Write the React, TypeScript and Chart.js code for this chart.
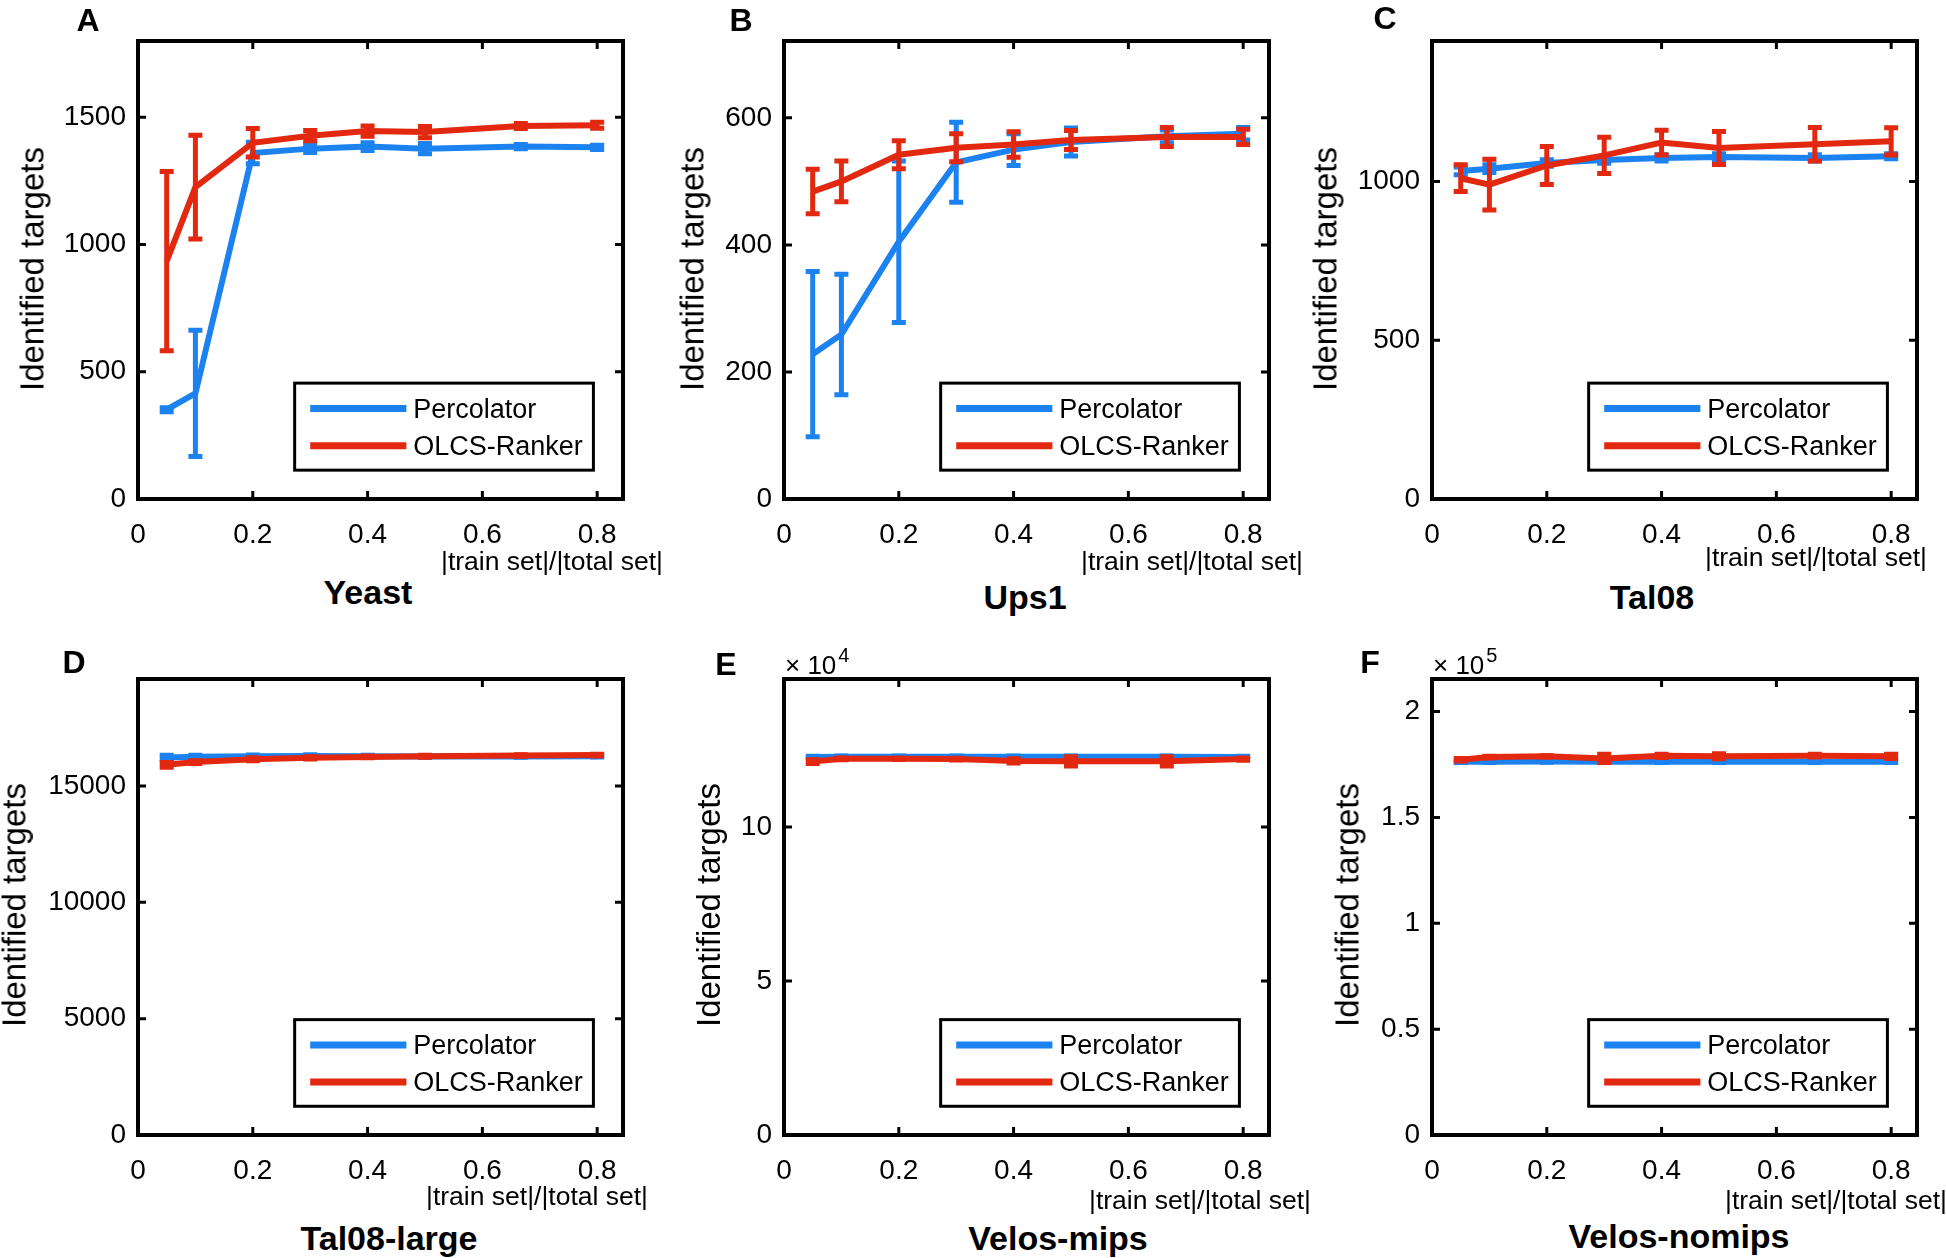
import React, { useEffect, useRef } from "react";
import { Chart, registerables } from "chart.js";

Chart.register(...registerables);

// ---------- data ----------
const trainFractions = [0.05, 0.1, 0.2, 0.3, 0.4, 0.5, 0.667, 0.8];
const xTicks = [0, 0.2, 0.4, 0.6, 0.8];
const seriesNames = ["Percolator", "OLCS-Ranker"];
const xAxisNote = "|train set|/|total set|";
const yAxisTitle = "Identified targets";

// A: Yeast
const yeastPercolator = [351, 415, 1360, 1377, 1385, 1377, 1385, 1382];
const yeastPercolatorErr = [8, 248, 42, 15, 15, 20, 8, 8];
const yeastOlcs = [935, 1226, 1400, 1428, 1446, 1442, 1466, 1469];
const yeastOlcsErr = [352, 204, 56, 20, 20, 22, 10, 12];
const yeastYTicks = [0, 500, 1000, 1500];

// B: Ups1
const ups1Percolator = [228, 259, 405, 530, 550, 562, 571, 575];
const ups1PercolatorErr = [130, 95, 127, 63, 25, 22, 10, 10];
const ups1Olcs = [484, 500, 542, 553, 558, 565, 570, 570];
const ups1OlcsErr = [35, 32, 22, 22, 20, 15, 15, 12];
const ups1YTicks = [0, 200, 400, 600];

// C: Tal08
const tal08Percolator = [1033, 1040, 1058, 1067, 1074, 1077, 1074, 1079];
const tal08PercolatorErr = [12, 12, 10, 10, 10, 10, 10, 8];
const tal08Olcs = [1010, 990, 1050, 1082, 1122, 1105, 1117, 1126];
const tal08OlcsErr = [42, 80, 60, 57, 39, 52, 53, 43];
const tal08YTicks = [0, 500, 1000];

// D: Tal08-large
const tal08LargePercolator = [16230, 16260, 16280, 16290, 16280, 16270, 16270, 16280];
const tal08LargePercolatorErr = [90, 60, 50, 50, 40, 30, 30, 30];
const tal08LargeOlcs = [15910, 16030, 16150, 16210, 16250, 16280, 16310, 16330];
const tal08LargeOlcsErr = [100, 60, 60, 50, 40, 40, 30, 40];
const tal08LargeYTicks = [0, 5000, 10000, 15000];

// E: Velos-mips
const velosMipsPercolator = [122700, 122800, 122800, 122800, 122800, 122800, 122800, 122700];
const velosMipsPercolatorErr = [200, 200, 200, 200, 200, 200, 200, 200];
const velosMipsOlcs = [121200, 122100, 122100, 122000, 121400, 121300, 121300, 122000];
const velosMipsOlcsErr = [600, 300, 200, 300, 700, 1500, 1500, 400];
const velosMipsYTicks = [0, 50000, 100000];

// F: Velos-nomips
const velosNomipsPercolator = [176300, 176300, 176400, 176300, 176300, 176300, 176300, 176300];
const velosNomipsPercolatorErr = [300, 300, 300, 300, 300, 300, 300, 300];
const velosNomipsOlcs = [177300, 178500, 178900, 177900, 179100, 178900, 179200, 178900];
const velosNomipsOlcsErr = [600, 400, 300, 2000, 800, 1200, 600, 1000];
const velosNomipsYTicks = [0, 50000, 100000, 150000, 200000];

// ---------- styles ----------
const FONT = "'Liberation Sans', Arial, Helvetica, sans-serif";
const BLUE = "#1b82f0";
const RED = "#e2290f";
const X_MAX = 0.845;

type PanelCfg = {
  letter: string;
  title: string;
  perc: number[];
  percErr: number[];
  olcs: number[];
  olcsErr: number[];
  yMax: number;
  yTicks: number[];
  yDiv: number;
  exponent?: string;
  box: [number, number, number, number]; // left, top, right, bottom (page px)
  yTitleX: number;
  yTitleY: number;
  noteX: number;
  noteY: number;
  titleX: number;
  titleY: number;
  letterX: number;
  letterY: number;
};

const panels: PanelCfg[] = [
  {
    letter: "A", title: "Yeast",
    perc: yeastPercolator, percErr: yeastPercolatorErr, olcs: yeastOlcs, olcsErr: yeastOlcsErr,
    yMax: 1800, yTicks: yeastYTicks, yDiv: 1,
    box: [138, 41, 623, 499],
    yTitleX: 32, yTitleY: 269, noteX: 441, noteY: 561, titleX: 368, titleY: 592, letterX: 88, letterY: 20,
  },
  {
    letter: "B", title: "Ups1",
    perc: ups1Percolator, percErr: ups1PercolatorErr, olcs: ups1Olcs, olcsErr: ups1OlcsErr,
    yMax: 721, yTicks: ups1YTicks, yDiv: 1,
    box: [784, 41, 1269, 499],
    yTitleX: 692, yTitleY: 269, noteX: 1081, noteY: 561, titleX: 1025, titleY: 597, letterX: 741, letterY: 20,
  },
  {
    letter: "C", title: "Tal08",
    perc: tal08Percolator, percErr: tal08PercolatorErr, olcs: tal08Olcs, olcsErr: tal08OlcsErr,
    yMax: 1442, yTicks: tal08YTicks, yDiv: 1,
    box: [1432, 41, 1917, 499],
    yTitleX: 1325, yTitleY: 269, noteX: 1705, noteY: 557, titleX: 1652, titleY: 597, letterX: 1385, letterY: 18,
  },
  {
    letter: "D", title: "Tal08-large",
    perc: tal08LargePercolator, percErr: tal08LargePercolatorErr, olcs: tal08LargeOlcs, olcsErr: tal08LargeOlcsErr,
    yMax: 19600, yTicks: tal08LargeYTicks, yDiv: 1,
    box: [138, 679, 623, 1135],
    yTitleX: 14, yTitleY: 905, noteX: 426, noteY: 1196, titleX: 389, titleY: 1238, letterX: 74, letterY: 662,
  },
  {
    letter: "E", title: "Velos-mips",
    perc: velosMipsPercolator, percErr: velosMipsPercolatorErr, olcs: velosMipsOlcs, olcsErr: velosMipsOlcsErr,
    yMax: 148000, yTicks: velosMipsYTicks, yDiv: 1e4, exponent: "4",
    box: [784, 679, 1269, 1135],
    yTitleX: 708, yTitleY: 905, noteX: 1089, noteY: 1200, titleX: 1058, titleY: 1238, letterX: 726, letterY: 664,
  },
  {
    letter: "F", title: "Velos-nomips",
    perc: velosNomipsPercolator, percErr: velosNomipsPercolatorErr, olcs: velosNomipsOlcs, olcsErr: velosNomipsOlcsErr,
    yMax: 215400, yTicks: velosNomipsYTicks, yDiv: 1e5, exponent: "5",
    box: [1432, 679, 1917, 1135],
    yTitleX: 1347, yTitleY: 905, noteX: 1725, noteY: 1200, titleX: 1679, titleY: 1236, letterX: 1370, letterY: 662,
  },
];

// ---------- plugins ----------
const errorBarPlugin = {
  id: "errorBars",
  afterDatasetDraw(chart: any, args: any) {
    const ds = chart.data.datasets[args.index];
    const errs: number[] | undefined = ds.errors;
    if (!errs) return;
    const ctx = chart.ctx;
    const xs = chart.scales.x;
    const ys = chart.scales.y;
    ctx.save();
    ctx.strokeStyle = ds.borderColor;
    ctx.lineWidth = 5;
    ctx.lineCap = "butt";
    const cap = 7;
    ds.data.forEach((pt: any, i: number) => {
      const e = errs[i];
      const x = xs.getPixelForValue(pt.x);
      const y1 = ys.getPixelForValue(pt.y + e);
      const y2 = ys.getPixelForValue(pt.y - e);
      ctx.beginPath();
      ctx.moveTo(x, y1);
      ctx.lineTo(x, y2);
      ctx.moveTo(x - cap, y1);
      ctx.lineTo(x + cap, y1);
      ctx.moveTo(x - cap, y2);
      ctx.lineTo(x + cap, y2);
      ctx.stroke();
    });
    ctx.restore();
  },
};

const framePlugin = {
  id: "frame",
  afterDatasetsDraw(chart: any) {
    const ctx = chart.ctx;
    const { left, right, top, bottom } = chart.chartArea;
    const xs = chart.scales.x;
    const ys = chart.scales.y;
    const tl = 8;
    ctx.save();
    ctx.strokeStyle = "#000";
    ctx.lineWidth = 3;
    ctx.beginPath();
    xs.ticks.forEach((t: any) => {
      const x = xs.getPixelForValue(t.value);
      if (x <= left + 2 || x >= right - 2) return;
      ctx.moveTo(x, bottom);
      ctx.lineTo(x, bottom - tl);
      ctx.moveTo(x, top);
      ctx.lineTo(x, top + tl);
    });
    ys.ticks.forEach((t: any) => {
      const y = ys.getPixelForValue(t.value);
      if (y <= top + 2 || y >= bottom - 2) return;
      ctx.moveTo(left, y);
      ctx.lineTo(left + tl, y);
      ctx.moveTo(right, y);
      ctx.lineTo(right - tl, y);
    });
    ctx.stroke();
    ctx.lineWidth = 4;
    ctx.strokeRect(left, top, right - left, bottom - top);
    ctx.restore();
  },
};

const boxLegendPlugin = {
  id: "boxLegend",
  afterDraw(chart: any) {
    const ctx = chart.ctx;
    const { left, right, top, bottom } = chart.chartArea;
    const w = right - left;
    const h = bottom - top;
    const lx = left + 0.323 * w;
    const rx = left + 0.939 * w;
    const ty = top + 0.747 * h;
    const by = top + 0.937 * h;
    const bw = rx - lx;
    const bh = by - ty;
    ctx.save();
    ctx.fillStyle = "#fff";
    ctx.fillRect(lx, ty, bw, bh);
    ctx.strokeStyle = "#000";
    ctx.lineWidth = 3;
    ctx.strokeRect(lx, ty, bw, bh);
    const rows = [0.293, 0.72];
    ctx.font = `27px ${FONT}`;
    ctx.textBaseline = "middle";
    ctx.textAlign = "left";
    chart.data.datasets
      .slice()
      .sort((a: any, b: any) => a.legendIndex - b.legendIndex)
      .forEach((ds: any, i: number) => {
        const y = ty + rows[i] * bh;
        ctx.strokeStyle = ds.borderColor;
        ctx.lineWidth = 7;
        ctx.beginPath();
        ctx.moveTo(lx + 0.052 * bw, y);
        ctx.lineTo(lx + 0.374 * bw, y);
        ctx.stroke();
        ctx.fillStyle = "#000";
        ctx.fillText(ds.label, lx + 0.397 * bw, y + 2);
      });
    ctx.restore();
  },
};

// ---------- components ----------
const PAD_LEFT = 130;
const PAD_TOP = 45;
const PAD_RIGHT = 30;
const PAD_BOTTOM = 70;

function Panel({ cfg }: { cfg: PanelCfg }) {
  const ref = useRef<HTMLCanvasElement | null>(null);
  const [L, T, R, B] = cfg.box;
  const cw = R - L + PAD_LEFT + PAD_RIGHT;
  const ch = B - T + PAD_TOP + PAD_BOTTOM;

  useEffect(() => {
    if (!ref.current) return;
    const pts = (ys: number[]) => trainFractions.map((x, i) => ({ x, y: ys[i] }));
    const chart = new Chart(ref.current, {
      type: "line",
      data: {
        datasets: [
          {
            label: seriesNames[0],
            data: pts(cfg.perc),
            borderColor: BLUE,
            backgroundColor: BLUE,
            borderWidth: 6,
            pointRadius: 0,
            tension: 0,
            order: 2,
            errors: cfg.percErr,
            legendIndex: 0,
          } as any,
          {
            label: seriesNames[1],
            data: pts(cfg.olcs),
            borderColor: RED,
            backgroundColor: RED,
            borderWidth: 6,
            pointRadius: 0,
            tension: 0,
            order: 1,
            errors: cfg.olcsErr,
            legendIndex: 1,
          } as any,
        ],
      },
      options: {
        animation: false,
        responsive: false,
        devicePixelRatio: 1,
        layout: { padding: { left: 0, top: PAD_TOP, right: PAD_RIGHT, bottom: 0 } },
        plugins: { legend: { display: false }, tooltip: { enabled: false } },
        scales: {
          x: {
            type: "linear",
            min: 0,
            max: X_MAX,
            grid: { display: false, drawTicks: false },
            border: { display: false },
            afterBuildTicks: (s: any) => {
              s.ticks = xTicks.map((v) => ({ value: v }));
            },
            afterFit: (s: any) => {
              s.height = PAD_BOTTOM;
            },
            ticks: {
              autoSkip: false,
              maxRotation: 0,
              padding: 19,
              color: "#000",
              font: { family: FONT, size: 28 },
              callback: (v: any) => String(Math.round(Number(v) * 10) / 10),
            },
          },
          y: {
            type: "linear",
            min: 0,
            max: cfg.yMax,
            grid: { display: false, drawTicks: false },
            border: { display: false },
            afterBuildTicks: (s: any) => {
              s.ticks = cfg.yTicks.map((v) => ({ value: v }));
            },
            afterFit: (s: any) => {
              s.width = PAD_LEFT;
            },
            ticks: {
              padding: 12,
              color: "#000",
              font: { family: FONT, size: 28 },
              callback: (v: any) => String(Math.round((Number(v) / cfg.yDiv) * 100) / 100),
            },
          },
        },
      } as any,
      plugins: [errorBarPlugin, framePlugin, boxLegendPlugin],
    });
    return () => chart.destroy();
  }, [cfg]);

  const abs: React.CSSProperties = { position: "absolute", whiteSpace: "nowrap", lineHeight: 1, color: "#000" };

  return (
    <>
      <canvas
        ref={ref}
        width={cw}
        height={ch}
        style={{ position: "absolute", left: L - PAD_LEFT, top: T - PAD_TOP, width: cw, height: ch }}
      />
      <div style={{ ...abs, left: cfg.letterX, top: cfg.letterY, transform: "translate(-50%, -50%)", fontWeight: "bold", fontSize: 32 }}>
        {cfg.letter}
      </div>
      <div style={{ ...abs, left: cfg.yTitleX, top: cfg.yTitleY, transform: "translate(-50%, -50%) rotate(-90deg)", fontSize: 33 }}>
        {yAxisTitle}
      </div>
      <div style={{ ...abs, left: cfg.noteX, top: cfg.noteY, transform: "translateY(-50%)", fontSize: 26.5 }}>
        {xAxisNote}
      </div>
      <div style={{ ...abs, left: cfg.titleX, top: cfg.titleY, transform: "translate(-50%, -50%)", fontWeight: "bold", fontSize: 34 }}>
        {cfg.title}
      </div>
      {cfg.exponent ? (
        <div style={{ ...abs, left: L + 1, top: T - 27, fontSize: 26 }}>
          {"× 10"}
          <span style={{ fontSize: 20, position: "relative", top: -12, marginLeft: 2 }}>{cfg.exponent}</span>
        </div>
      ) : null}
    </>
  );
}

export default function App() {
  return (
    <div
      style={{
        position: "absolute",
        left: 0,
        top: 0,
        width: 1946,
        height: 1258,
        background: "#fff",
        overflow: "hidden",
        fontFamily: FONT,
      }}
    >
      {panels.map((p) => (
        <Panel key={p.letter} cfg={p} />
      ))}
    </div>
  );
}
